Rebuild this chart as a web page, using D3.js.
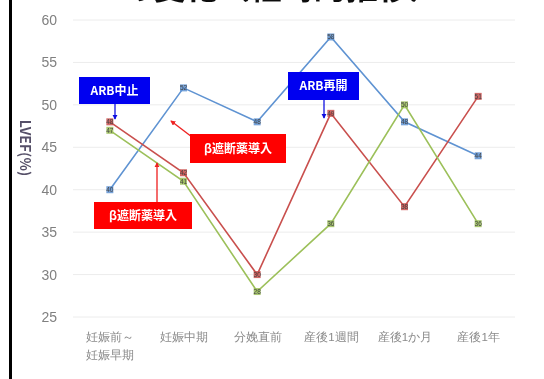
<!DOCTYPE html>
<html>
<head>
<meta charset="utf-8">
<script src="https://cdn.jsdelivr.net/npm/d3@7"></script>
<style>
  html, body { margin: 0; padding: 0; background: #fff; }
  svg { display: block; font-family: "Noto Sans CJK JP", "Noto Sans", sans-serif; }
</style>
</head>
<body>
<svg id="chart" width="544" height="379"></svg>
<script>
// Time points (two-line labels split on "\n")
const categories = ["妊娠前～\n妊娠早期", "妊娠中期", "分娩直前", "産後1週間", "産後1か月", "産後1年"];
// LVEF (%) for three cases
const seriesBlue  = [40, 52, 48, 58, 48, 44];
const seriesRed   = [48, 42, 30, 49, 38, 51];
const seriesGreen = [47, 41, 28, 36, 50, 36];
const yTicks = [25, 30, 35, 40, 45, 50, 55, 60];

const series = [
  { name: "blue",  values: seriesBlue,  color: "#5f93d2" },
  { name: "red",   values: seriesRed,   color: "#c9504e" },
  { name: "green", values: seriesGreen, color: "#9cc05a" }
];

const svg = d3.select("#chart");

const x = d3.scalePoint().domain(categories).range([73, 515]).padding(0.5);
const y = d3.scaleLinear().domain([25, 60]).range([317, 20]);

// soft edge like a scanned slide
const defs = svg.append("defs");
defs.append("filter").attr("id", "soft")
  .append("feGaussianBlur").attr("stdDeviation", 0.6);

const root = svg.append("g").attr("filter", "url(#soft)");

// slide title (runs off the top edge)
root.append("text")
  .attr("x", 48).attr("y", -1)
  .attr("font-size", 32).attr("font-weight", "bold").attr("fill", "#111")
  .text("LVEFの変化（経時的推移）");

// left frame rule
root.append("rect").attr("x", 9).attr("y", 0).attr("width", 3).attr("height", 379).attr("fill", "#000");

// gridlines
root.append("g").selectAll("line").data(yTicks).join("line")
  .attr("x1", 73).attr("x2", 515)
  .attr("y1", d => y(d)).attr("y2", d => y(d))
  .attr("stroke", "#ececec").attr("stroke-width", 1);

// y axis labels
const yAxis = d3.axisLeft(y).tickValues(yTicks).tickSize(0).tickPadding(0);
const gy = root.append("g").attr("transform", "translate(57,0)").call(yAxis);
gy.select(".domain").remove();
gy.selectAll("text").attr("font-size", 14).attr("fill", "#808080")
  .attr("font-family", "'Liberation Sans', Arial, sans-serif");

// x axis labels
const xAxis = d3.axisBottom(x).tickSize(0).tickFormat("");
const gx = root.append("g").attr("transform", "translate(0,317)").call(xAxis);
gx.select(".domain").remove();
gx.selectAll(".tick").each(function(d) {
  const t = d3.select(this).append("text")
    .attr("text-anchor", "middle").attr("font-size", 11.5).attr("fill", "#8a8a8a");
  d.split("\n").forEach((line, i) => {
    t.append("tspan").attr("x", 0).attr("y", 24 + i * 18).text(line);
  });
});

// y axis title
root.append("text")
  .attr("transform", "translate(20,148) rotate(90)")
  .attr("text-anchor", "middle").attr("font-size", 14).attr("font-weight", "bold").attr("fill", "#555068")
  .text("LVEF(%)");

// series lines
const line = d3.line().x((d, i) => x(categories[i])).y(d => y(d));
root.append("g").selectAll("path").data(series).join("path")
  .attr("d", s => line(s.values))
  .attr("fill", "none").attr("stroke", d => d.color).attr("stroke-width", 1.6);

// markers with value labels
series.forEach(s => {
  const g = root.append("g");
  const pts = g.selectAll("g").data(s.values).join("g")
    .attr("transform", (d, i) => `translate(${x(categories[i])},${y(d)})`);
  pts.append("rect").attr("x", -3.5).attr("y", -3.5).attr("width", 7).attr("height", 7)
    .attr("fill", s.color).attr("opacity", 0.85);
  pts.append("text").attr("text-anchor", "middle").attr("dy", "0.35em")
    .attr("font-size", 6.5).attr("fill", "#444")
    .attr("font-family", "'Liberation Sans', Arial, sans-serif")
    .text(d => d);
});

// callout boxes
defs.append("marker").attr("id", "ahBlue").attr("viewBox", "0 0 6 6").attr("refX", 5).attr("refY", 3)
  .attr("markerWidth", 4).attr("markerHeight", 4).attr("orient", "auto")
  .append("path").attr("d", "M0,0L6,3L0,6Z").attr("fill", "#1010e0");
defs.append("marker").attr("id", "ahRed").attr("viewBox", "0 0 6 6").attr("refX", 5).attr("refY", 3)
  .attr("markerWidth", 4).attr("markerHeight", 4).attr("orient", "auto")
  .append("path").attr("d", "M0,0L6,3L0,6Z").attr("fill", "#ee2020");

const callouts = [
  { text: "ARB中止",   x: 79,  y: 77,  w: 71, h: 27, fill: "#0000f0", stroke: "#1010e0", marker: "ahBlue", arrow: [115, 104, 115, 119] },
  { text: "ARB再開",   x: 288, y: 72,  w: 71, h: 28, fill: "#0000f0", stroke: "#1010e0", marker: "ahBlue", arrow: [324, 100, 324, 118] },
  { text: "β遮断薬導入", x: 190, y: 134, w: 96, h: 29, fill: "#ff0000", stroke: "#ee2020", marker: "ahRed", arrow: [192, 137, 171, 121] },
  { text: "β遮断薬導入", x: 94,  y: 202, w: 98, h: 27, fill: "#ff0000", stroke: "#ee2020", marker: "ahRed", arrow: [157, 202, 157, 163] }
];
callouts.forEach(c => {
  root.append("line")
    .attr("x1", c.arrow[0]).attr("y1", c.arrow[1]).attr("x2", c.arrow[2]).attr("y2", c.arrow[3])
    .attr("stroke", c.stroke).attr("stroke-width", 1.3).attr("marker-end", `url(#${c.marker})`);
  root.append("rect").attr("x", c.x).attr("y", c.y).attr("width", c.w).attr("height", c.h)
    .attr("fill", c.fill);
  root.append("text").attr("x", c.x + c.w / 2).attr("y", c.y + c.h / 2).attr("dy", "0.36em")
    .attr("text-anchor", "middle").attr("font-size", 12).attr("font-weight", "bold").attr("fill", "#fff")
    .text(c.text);
});
</script>
</body>
</html>
